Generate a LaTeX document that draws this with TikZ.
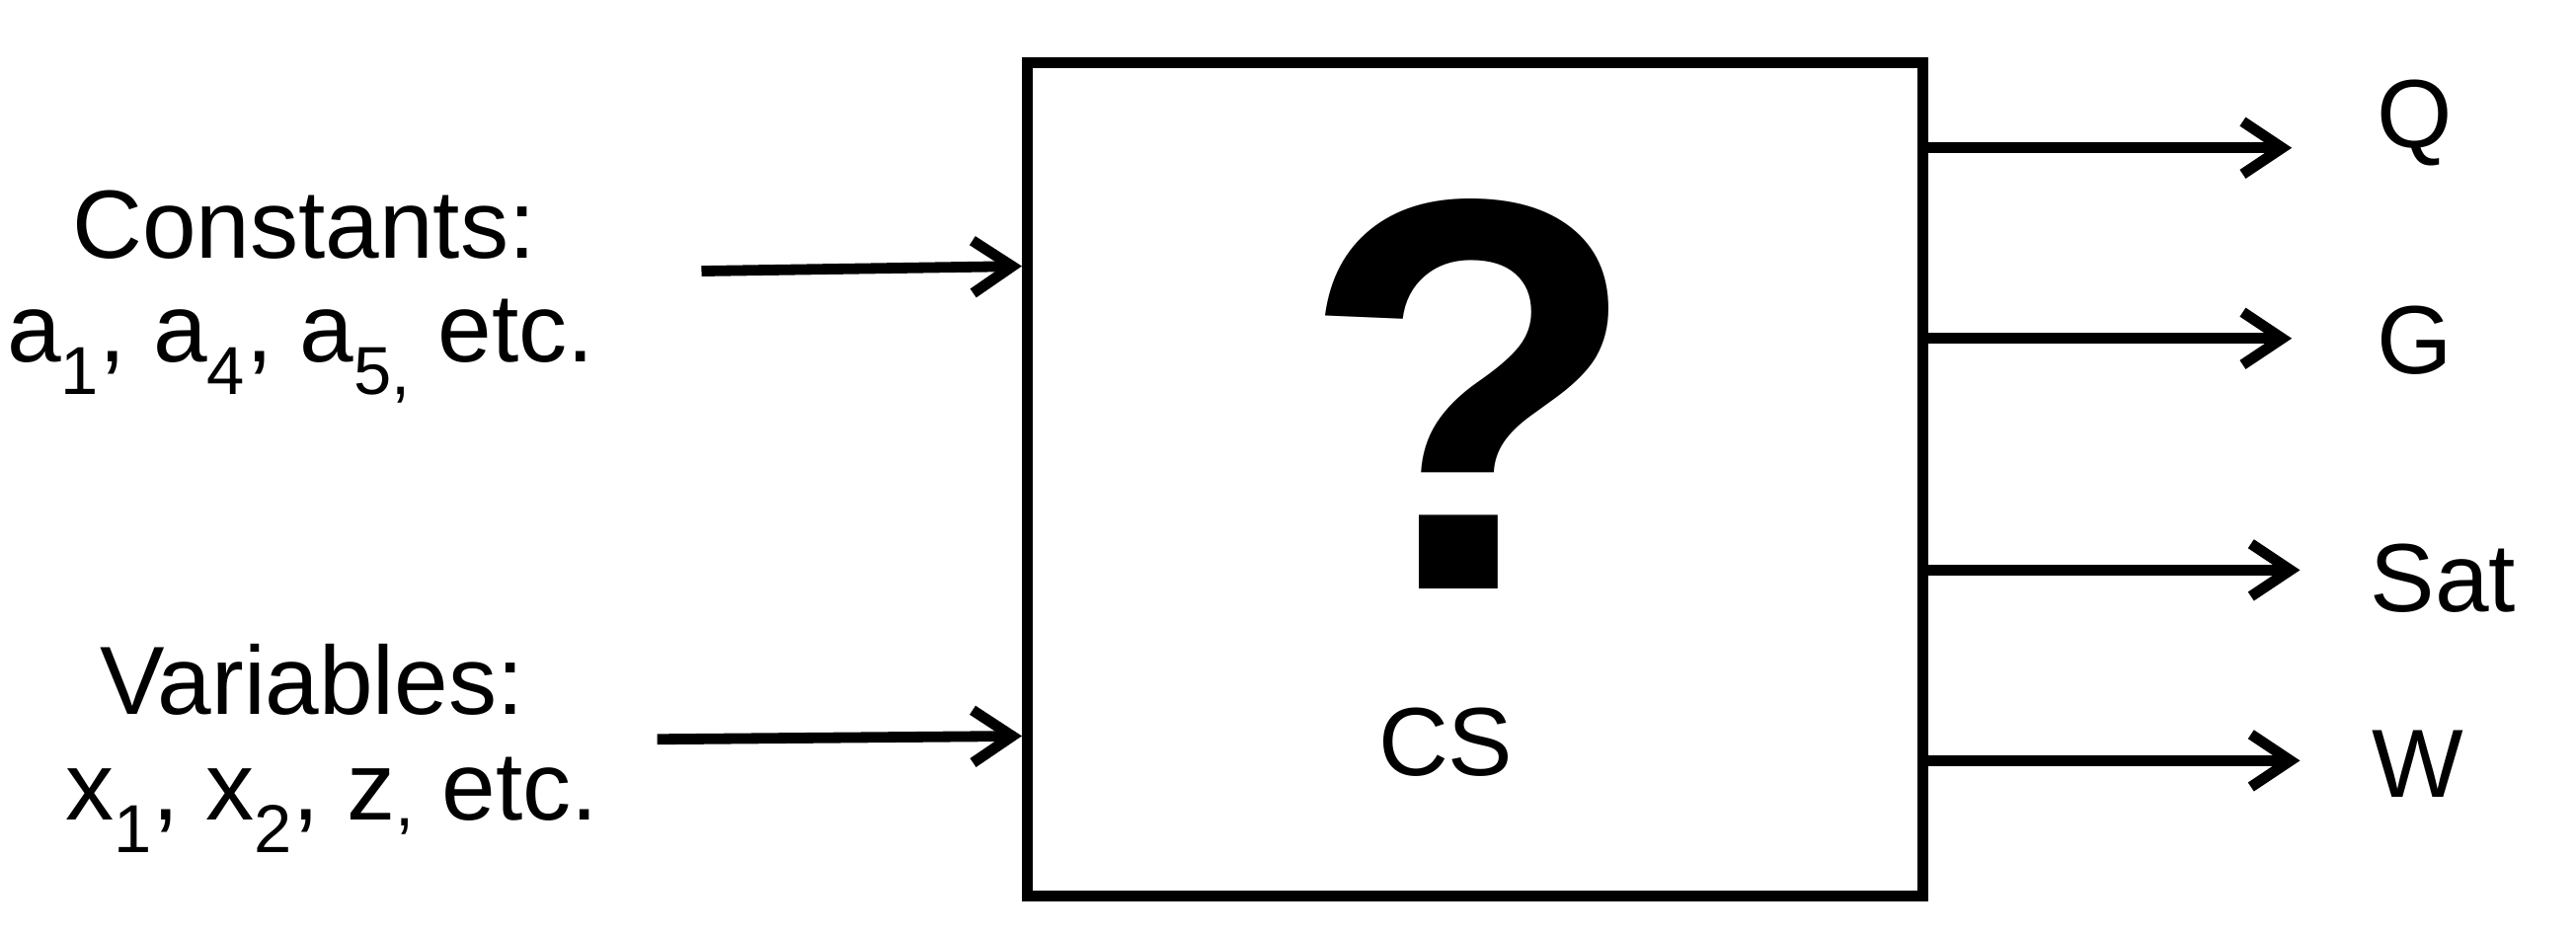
\documentclass[tikz,border=0pt]{standalone}
\usepackage{fontspec}
\setmainfont{Liberation Sans}
\usetikzlibrary{arrows.meta}
\begin{document}
\begin{tikzpicture}[x=1pt,y=-1pt,
  lbl/.style={font=\fontsize{59}{64}\selectfont, inner sep=0pt},
  arr/.style={line width=6.5pt,-{Straight Barb[length=24pt,width=32pt,line width=6.5pt]}}]
\useasboundingbox (0,0) rectangle (1568,570);
\node[draw,line width=6.5pt,minimum width=545pt,minimum height=507pt,anchor=north west,inner sep=0pt] (box) at (622,35) {};
\node[font=\fontsize{340}{340}\bfseries\selectfont] (q) at (895,240) {?};
\node[lbl] (cs) at (880,452) {CS};
\node[lbl] (c1) at (185,137) {Constants:};
\node[lbl] (c2) at (183,214) {a\textsubscript{1}, a\textsubscript{4}, a\textsubscript{5,} etc.};
\node[lbl] (v1) at (190,414) {Variables:};
\node[lbl] (v2) at (202,490) {x\textsubscript{1}, x\textsubscript{2}, z\textsubscript{,} etc.};
\coordinate (ci) at (427,165); \coordinate (vi) at (400,450);
\draw[arr] (ci) -- (box.west |- 0,162);
\draw[arr] (vi) -- (box.west |- 0,448);
\node[lbl] (Q) at (1470,75) {Q};
\node[lbl] (G) at (1470,207) {G};
\node[lbl] (S) at (1487,352) {Sat};
\node[lbl] (W) at (1472,465) {W};
\draw[arr] (box.east |- 0,90) -- (1395,90) coordinate (qe);
\draw[arr] (box.east |- 0,206) -- (1395,206) coordinate (ge);
\draw[arr] (box.east |- 0,347) -- (1400,347) coordinate (se);
\draw[arr] (box.east |- 0,463) -- (1400,463) coordinate (we);
\end{tikzpicture}
\end{document}
